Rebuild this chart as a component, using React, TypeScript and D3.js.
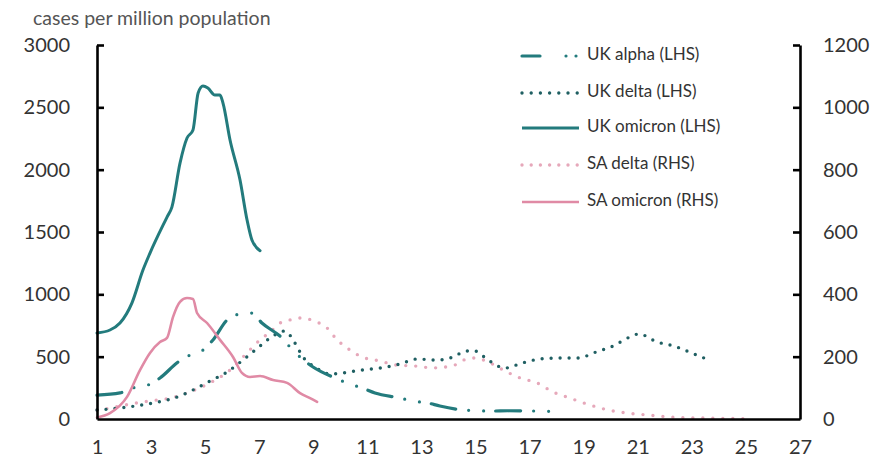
import * as React from "react";
import * as d3 from "d3";

// week number on x, cases per million on y
const xTicks = [1, 3, 5, 7, 9, 11, 13, 15, 17, 19, 21, 23, 25, 27];
const leftTicks = [0, 500, 1000, 1500, 2000, 2500, 3000];
const rightTicks = [0, 200, 400, 600, 800, 1000, 1200];

const ukAlpha: [number, number][] = [
  [1.0, 192], [1.85, 209], [2.33, 249], [2.89, 273], [3.33, 329], [4.0, 457],
  [4.44, 513], [4.92, 553], [5.29, 634], [5.81, 794], [6.29, 842], [6.73, 850],
  [7.1, 770], [7.84, 650], [8.14, 577], [8.51, 497], [8.99, 417], [9.8, 329],
  [10.25, 289], [10.8, 249], [11.28, 209], [12.21, 168], [12.69, 144], [13.24, 128],
  [13.68, 104], [14.68, 70], [15.64, 64], [16.2, 66], [17.2, 64], [17.9, 60],
];

const ukDelta: [number, number][] = [
  [1.0, 72], [1.85, 88], [2.85, 120], [3.59, 152], [4.07, 185], [4.55, 233],
  [5.18, 305], [5.81, 377], [6.4, 473], [7.03, 585], [7.51, 666], [7.95, 706],
  [8.32, 610], [8.62, 497], [9.06, 417], [9.62, 361], [10.06, 369], [10.8, 393],
  [11.47, 409], [12.21, 441], [12.83, 481], [13.57, 473], [14.17, 497], [14.65, 545],
  [14.98, 545], [15.46, 473], [16.09, 409], [16.72, 449], [17.38, 481], [18.12, 489],
  [18.79, 489], [19.45, 537], [20.08, 585], [20.71, 658], [21.04, 682], [21.71, 618],
  [22.34, 585], [23.0, 529], [23.63, 473],
];

const ukOmicron: [number, number][] = [
  [1.0, 690], [1.48, 714], [1.85, 770], [2.29, 930], [2.7, 1195], [2.96, 1331],
  [3.59, 1620], [3.77, 1700], [4.07, 2053], [4.33, 2254], [4.55, 2318], [4.74, 2615],
  [4.92, 2671], [5.1, 2655], [5.36, 2598], [5.55, 2598], [5.66, 2534], [5.92, 2238],
  [6.29, 1917], [6.55, 1596], [6.73, 1436], [7.03, 1350],
];

const saDelta: [number, number][] = [
  [1.0, 29], [1.48, 35], [2.22, 48], [2.96, 58], [3.7, 67], [4.44, 87],
  [5.18, 116], [5.92, 157], [6.58, 215], [7.03, 254], [7.4, 279], [7.77, 308],
  [8.14, 318], [8.51, 324], [8.8, 321], [9.14, 311], [9.51, 292], [9.88, 254],
  [10.25, 228], [10.8, 199], [11.47, 186], [12.09, 173], [12.76, 170], [13.43, 164],
  [14.13, 170], [14.68, 193], [14.98, 196], [15.53, 180], [16.16, 151], [16.64, 132],
  [17.27, 116], [17.86, 87], [18.49, 67], [19.23, 45], [19.9, 29], [20.6, 19],
  [21.34, 13], [22.3, 6], [23.41, 3], [24.96, 1],
];

const saOmicron: [number, number][] = [
  [1.0, 5], [1.48, 19], [2.11, 71], [2.59, 157], [2.96, 212], [3.33, 247],
  [3.59, 260], [3.81, 327], [4.07, 376], [4.33, 388], [4.55, 385], [4.7, 340],
  [5.07, 308], [5.55, 254], [6.03, 199], [6.36, 148], [6.66, 135], [7.03, 138],
  [7.51, 125], [8.03, 116], [8.51, 83], [8.88, 67], [9.14, 55],
];

const teal = "#237b7d";
const darkTeal = "#1f5f62";
const pink = "#e08aa5";
const lightPink = "#e6a8ba";
const font = "Lato, 'Open Sans', sans-serif";

function drawChart(svgEl: SVGSVGElement) {
  const svg = d3.select(svgEl);
  svg.selectAll("*").remove();

  const x = d3.scaleLinear().domain([1, 27]).range([97, 800]);
  const yL = d3.scaleLinear().domain([0, 3000]).range([419, 45]);
  const yR = d3.scaleLinear().domain([0, 1200]).range([419, 45]);

  const series = [
    { name: "UK alpha (LHS)", data: ukAlpha, y: yL, color: teal, width: 3.2, dash: "25 13 0 15 0 12", legendDash: "18 26 0 10 0 100" },
    { name: "UK delta (LHS)", data: ukDelta, y: yL, color: darkTeal, width: 3.4, dash: "0 9", legendDash: "0 9.2" },
    { name: "UK omicron (LHS)", data: ukOmicron, y: yL, color: teal, width: 3, dash: null, legendDash: null },
    { name: "SA delta (RHS)", data: saDelta, y: yR, color: lightPink, width: 3.4, dash: "0 10", legendDash: "0 9.2" },
    { name: "SA omicron (RHS)", data: saOmicron, y: yR, color: pink, width: 2.6, dash: null, legendDash: null },
  ];

  // title
  svg.append("text")
    .attr("x", 33).attr("y", 20)
    .attr("dominant-baseline", "middle")
    .attr("font-family", font).attr("font-size", 19.5)
    .attr("fill", "#555")
    .text("cases per million population");

  // lines (draw order so the solid omicron lines sit on top)
  const order = [3, 1, 0, 4, 2];
  order.forEach((i) => {
    const s = series[i];
    const line = d3.line<[number, number]>()
      .x((d) => x(d[0]))
      .y((d) => s.y(d[1]))
      .curve(d3.curveMonotoneX);
    svg.append("path")
      .datum(s.data)
      .attr("d", line)
      .attr("fill", "none")
      .attr("stroke", s.color)
      .attr("stroke-width", s.width)
      .attr("stroke-linecap", "round")
      .attr("stroke-linejoin", "round")
      .attr("stroke-dasharray", s.dash);
  });

  // axes
  const fmt = d3.format("d");
  const left = svg.append("g").attr("transform", "translate(97,0)")
    .call(d3.axisLeft(yL).tickValues(leftTicks).tickFormat(fmt).tickSizeInner(-7).tickSizeOuter(0).tickPadding(27));
  const right = svg.append("g").attr("transform", "translate(800,0)")
    .call(d3.axisRight(yR).tickValues(rightTicks).tickFormat(fmt).tickSizeInner(-7).tickSizeOuter(0).tickPadding(23));
  const bottom = svg.append("g").attr("transform", "translate(0,419)")
    .call(d3.axisBottom(x).tickValues(xTicks).tickFormat(fmt).tickSize(0).tickPadding(21));

  [left, right, bottom].forEach((g) => {
    g.select(".domain").attr("stroke", "#000").attr("stroke-width", 2.6);
    g.selectAll(".tick line").attr("stroke", "#000").attr("stroke-width", 2.6);
    g.selectAll("text").attr("font-family", font).attr("font-size", 20).attr("fill", "#333");
  });
  right.selectAll(".tick line").filter((d: any) => d === 0).remove();
  left.selectAll(".tick line").filter((d: any) => d === 0).remove();

  // legend
  const lg = svg.append("g");
  const rows = [56, 93, 128, 165, 202];
  series.forEach((s, i) => {
    lg.append("line")
      .attr("x1", 522).attr("x2", 579)
      .attr("y1", rows[i]).attr("y2", rows[i])
      .attr("stroke", s.color)
      .attr("stroke-width", s.width)
      .attr("stroke-linecap", s.legendDash ? "round" : "butt")
      .attr("stroke-dasharray", s.legendDash);
    lg.append("text")
      .attr("x", 587).attr("y", rows[i])
      .attr("dominant-baseline", "middle")
      .attr("font-family", font).attr("font-size", 17)
      .attr("fill", "#333")
      .text(s.name);
  });
}

const App = () => {
  const svg = React.useRef<SVGSVGElement>(null);
  React.useEffect(() => {
    document.body.style.margin = "0";
    if (svg.current) drawChart(svg.current);
  }, []);

  return (
    <div id="chart">
      <svg ref={svg} width={883} height={466} style={{ display: "block", background: "#fff" }}></svg>
    </div>
  );
};

export default App;
